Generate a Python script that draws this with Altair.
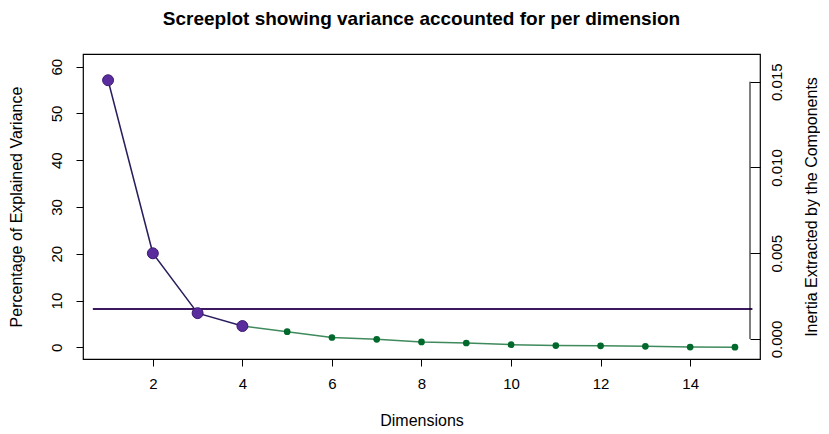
import altair as alt
import pandas as pd

# ---- data ----
dims = list(range(1, 16))
pct = [57.1, 20.1, 7.3, 4.55, 3.35, 2.1, 1.7, 1.15, 0.92, 0.57, 0.36, 0.32, 0.2, 0.05, 0.03]
n_significant = 4
threshold = 8.2
threshold_span = [0.66, 15.39]
x_ticks = [2, 4, 6, 8, 10, 12, 14]
y_ticks = [0, 10, 20, 30, 40, 50, 60]
inertia_ticks = [0.0, 0.005, 0.010, 0.015]
inertia_range = [0.0, 0.015]

FONT = "Liberation Sans, Arial, Helvetica, sans-serif"
PURPLE_PT = "#5b2c9e"
PURPLE_LN = "#2a1d5e"
GREEN_PT = "#00692b"
GREEN_LN = "#3f8a5c"
HLINE = "#3b1860"

W, H = 677, 305

df = pd.DataFrame({"dim": dims, "pct": pct})
sig = df[df["dim"] <= n_significant]
rest_line = df[df["dim"] >= n_significant]
rest_pts = df[df["dim"] > n_significant]

xscale = alt.Scale(domain=[0.44, 15.56], nice=False, zero=False)
yscale = alt.Scale(domain=[-2.5, 62.71], nice=False, zero=False)

xenc = alt.X(
    "dim:Q", scale=xscale,
    axis=alt.Axis(
        values=x_ticks, title="Dimensions", grid=False, domain=False,
        tickColor="black", tickSize=7, labelPadding=10, labelFontSize=15,
        labelFont=FONT, labelColor="black", titleFont=FONT, titleFontSize=16,
        titleFontWeight="normal", titleColor="black", titleY=61,
        titleBaseline="middle",
    ),
)
yenc = alt.Y(
    "pct:Q", scale=yscale,
    axis=alt.Axis(
        values=y_ticks, title="Percentage of Explained Variance", grid=False,
        domain=False, tickColor="black", tickSize=7, labelAngle=270,
        labelAlign="center", labelBaseline="bottom", labelPadding=12,
        labelFontSize=15, labelFont=FONT, labelColor="black",
        titleFont=FONT, titleFontSize=16, titleFontWeight="normal",
        titleColor="black", titleAngle=270, titleX=-67, titleY=H / 2,
        titleAlign="center", titleBaseline="middle",
    ),
)

line_sig = alt.Chart(sig).mark_line(color=PURPLE_LN, strokeWidth=1.5).encode(x=xenc, y=yenc)
line_rest = alt.Chart(rest_line).mark_line(color=GREEN_LN, strokeWidth=1.5).encode(x=xenc, y=yenc)
pts_sig = alt.Chart(sig).mark_point(
    filled=True, size=120, color=PURPLE_PT, stroke="#3a1b70", strokeWidth=1, opacity=1
).encode(x=xenc, y=yenc)
pts_rest = alt.Chart(rest_pts).mark_point(
    filled=True, size=45, color=GREEN_PT, opacity=1
).encode(x=xenc, y=yenc)

hdf = pd.DataFrame({"x1": [threshold_span[0]], "x2": [threshold_span[1]], "y": [threshold]})
hline = alt.Chart(hdf).mark_rule(color=HLINE, strokeWidth=2).encode(
    x=alt.X("x1:Q", scale=xscale), x2="x2:Q", y=alt.Y("y:Q", scale=yscale)
)

left = alt.layer(hline, line_sig, line_rest, pts_sig, pts_rest)

idf = pd.DataFrame({"lo": [inertia_range[0]], "hi": [inertia_range[1]]})
inertia = alt.Chart(idf).mark_rule(color="black", strokeWidth=1).encode(
    x=alt.value(W - 10),
    y=alt.Y(
        "lo:Q",
        scale=alt.Scale(domain=[-0.001166, 0.016615], nice=False, zero=False),
        axis=alt.Axis(
            orient="right", values=inertia_ticks, format=".3f", offset=-10,
            tickSize=10, tickColor="black", domain=False, grid=False,
            labelAngle=270, labelAlign="center", labelBaseline="top",
            labelPadding=9, labelFontSize=15, labelFont=FONT, labelColor="black",
            title="Inertia Extracted by the Components", titleFont=FONT,
            titleFontSize=16, titleFontWeight="normal", titleColor="black",
            titleAngle=270, titleX=61, titleY=H / 2, titleAlign="center",
            titleBaseline="middle",
        ),
    ),
    y2="hi:Q",
)

chart = (
    alt.layer(left, inertia)
    .resolve_scale(y="independent")
    .properties(
        width=W, height=H,
        autosize=alt.AutoSizeParams(type="none"),
        padding={"left": 75, "top": 46, "right": 60, "bottom": 72},
        title=alt.TitleParams(
            "Screeplot showing variance accounted for per dimension",
            font=FONT, fontSize=19, fontWeight="bold", color="black",
            anchor="middle", baseline="alphabetic", offset=25, dy=15,
        ),
        background="white",
    )
    .configure_view(stroke="black", strokeWidth=1.2)
)

chart.save("out.html", embed_options={"renderer": "svg", "actions": False})
